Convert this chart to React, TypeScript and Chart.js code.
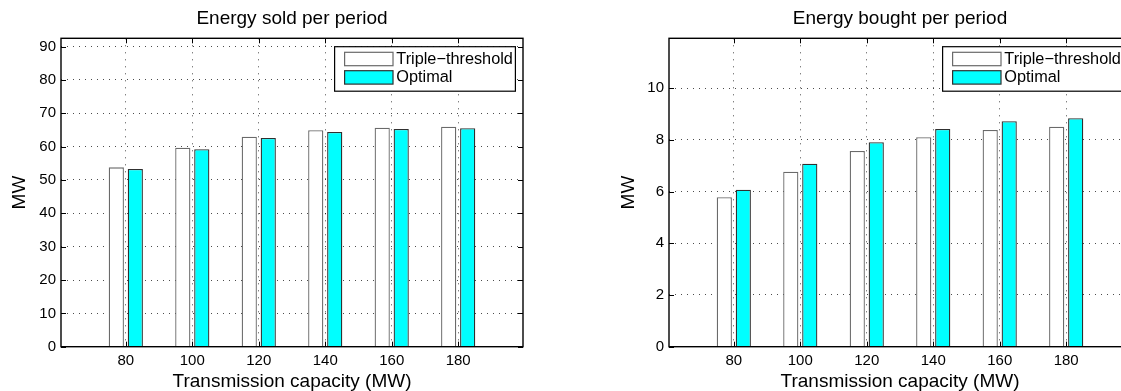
import React, { useEffect, useRef } from 'react';
import { Chart, registerables } from 'chart.js';

Chart.register(...registerables);

// ---- data ----
const capacities = [80, 100, 120, 140, 160, 180];
const xTickValues = [80, 100, 120, 140, 160, 180];
const seriesNames = ['Triple−threshold', 'Optimal'];

const soldTriple = [53.8, 59.7, 63.0, 64.9, 65.7, 66.0];
const soldOptimal = [53.3, 59.2, 62.6, 64.4, 65.3, 65.5];
const soldYTicks = [0, 10, 20, 30, 40, 50, 60, 70, 80, 90];

const boughtTriple = [5.78, 6.77, 7.57, 8.1, 8.38, 8.51];
const boughtOptimal = [6.07, 7.08, 7.91, 8.42, 8.72, 8.84];
const boughtYTicks = [0, 2, 4, 6, 8, 10];

const FONT = "'Liberation Sans', Arial, Helvetica, sans-serif";

type PanelSpec = {
  title: string;
  triple: number[];
  optimal: number[];
  yTicks: number[];
  yMax: number;
  padLeft: number;
  yWidth: number;
  padRight: number;
  canvasWidth: number;
  left: number;
};

const soldSpec: PanelSpec = {
  title: 'Energy sold per period',
  triple: soldTriple,
  optimal: soldOptimal,
  yTicks: soldYTicks,
  yMax: 92.5,
  padLeft: 0,
  yWidth: 61,
  padRight: 37,
  canvasWidth: 560,
  left: 0,
};

const boughtSpec: PanelSpec = {
  title: 'Energy bought per period',
  triple: boughtTriple,
  optimal: boughtOptimal,
  yTicks: boughtYTicks,
  yMax: 11.93,
  padLeft: 49.2,
  yWidth: 59.8,
  padRight: 29,
  canvasWidth: 600,
  left: 560,
};

const frameAndLegend = {
  id: 'matlabFrame',
  afterDraw(chart: any) {
    const { ctx, chartArea: a, scales } = chart;
    const xs = scales.x;
    const ys = scales.y;
    ctx.save();
    // inward tick marks on all four sides
    ctx.strokeStyle = '#000';
    ctx.lineWidth = 1;
    const tl = 5;
    ctx.beginPath();
    xs.ticks.forEach((t: any) => {
      const px = Math.round(xs.getPixelForValue(t.value)) + 0.5;
      ctx.moveTo(px, a.bottom);
      ctx.lineTo(px, a.bottom - tl);
      ctx.moveTo(px, a.top);
      ctx.lineTo(px, a.top + tl);
    });
    ys.ticks.forEach((t: any) => {
      const py = Math.round(ys.getPixelForValue(t.value)) + 0.5;
      ctx.moveTo(a.left, py);
      ctx.lineTo(a.left + tl, py);
      ctx.moveTo(a.right, py);
      ctx.lineTo(a.right - tl, py);
    });
    ctx.stroke();
    // axes box
    ctx.lineWidth = 1.4;
    ctx.strokeRect(a.left, a.top, a.right - a.left, a.bottom - a.top);

    // legend (inside, top right)
    const ds = chart.data.datasets;
    ctx.font = `16.3px ${FONT}`;
    let maxW = 0;
    ds.forEach((d: any) => {
      maxW = Math.max(maxW, ctx.measureText(d.label).width);
    });
    const boxW = 61.7 + maxW + 2.5;
    const boxH = 44.5;
    const boxRight = a.right - 7.6;
    const boxLeft = boxRight - boxW;
    const boxTop = a.top + 8.4;
    ctx.fillStyle = '#fff';
    ctx.fillRect(boxLeft, boxTop, boxW, boxH);
    ctx.strokeStyle = '#000';
    ctx.lineWidth = 1.2;
    ctx.strokeRect(boxLeft, boxTop, boxW, boxH);
    const swTops = [5.6, 24];
    ds.forEach((d: any, i: number) => {
      const sx = boxLeft + 10;
      const sy = boxTop + swTops[i];
      ctx.fillStyle = d.backgroundColor;
      ctx.fillRect(sx, sy, 48.4, 13.4);
      ctx.strokeStyle = d.borderColor;
      ctx.lineWidth = 1.2;
      ctx.strokeRect(sx, sy, 48.4, 13.4);
      ctx.fillStyle = '#000';
      ctx.textAlign = 'left';
      ctx.textBaseline = 'middle';
      ctx.fillText(d.label, boxLeft + 61.7, sy + 6.9);
    });
    ctx.restore();
  },
};

function Panel({ spec }: { spec: PanelSpec }) {
  const ref = useRef<HTMLCanvasElement | null>(null);
  useEffect(() => {
    if (!ref.current) return;
    const toPts = (vals: number[]) => vals.map((y, i) => ({ x: capacities[i], y }));
    const chart = new Chart(ref.current, {
      type: 'bar',
      data: {
        datasets: [
          {
            label: seriesNames[0],
            data: toPts(spec.triple),
            backgroundColor: '#ffffff',
            borderColor: '#6a6a6a',
            borderWidth: 1.3,
            categoryPercentage: 0.5714,
            barPercentage: 0.8,
          },
          {
            label: seriesNames[1],
            data: toPts(spec.optimal),
            backgroundColor: '#00ffff',
            borderColor: '#303030',
            borderWidth: 1.3,
            categoryPercentage: 0.5714,
            barPercentage: 0.8,
          },
        ] as any,
      },
      options: {
        animation: false,
        responsive: false,
        devicePixelRatio: 1,
        layout: { padding: { left: spec.padLeft, right: spec.padRight, top: 0, bottom: 0 } },
        plugins: {
          legend: { display: false },
          tooltip: { enabled: false },
          title: {
            display: true,
            text: spec.title,
            color: '#000',
            fullSize: false,
            font: { family: FONT, size: 19, weight: 'normal', lineHeight: 1.2 },
            padding: { top: 7.6, bottom: 7.9 },
          },
        },
        scales: {
          x: {
            type: 'linear',
            min: 60.5,
            max: 199.5,
            offset: false,
            afterBuildTicks: (s: any) => {
              s.ticks = xTickValues.map((v) => ({ value: v }));
            },
            afterFit: (s: any) => {
              s.height = 44.3;
            },
            grid: { color: 'rgba(0,0,0,0.7)', lineWidth: 1, drawTicks: false, offset: false },
            border: { display: false, dash: [1, 6] },
            ticks: {
              color: '#000',
              font: { family: FONT, size: 15 },
              padding: 5.6,
              maxRotation: 0,
              autoSkip: false,
            },
            title: {
              display: true,
              text: 'Transmission capacity (MW)',
              color: '#000',
              font: { family: FONT, size: 19, lineHeight: 1 },
              padding: { top: 0, bottom: 0.2 },
            },
          },
          y: {
            type: 'linear',
            min: 0,
            max: spec.yMax,
            afterBuildTicks: (s: any) => {
              s.ticks = spec.yTicks.map((v) => ({ value: v }));
            },
            afterFit: (s: any) => {
              s.width = spec.yWidth;
            },
            grid: { color: 'rgba(0,0,0,0.7)', lineWidth: 1, drawTicks: false },
            border: { display: false, dash: [1, 5] },
            ticks: { color: '#000', font: { family: FONT, size: 15 }, padding: 5 },
            title: {
              display: true,
              text: 'MW',
              color: '#000',
              font: { family: FONT, size: 19, lineHeight: 1 },
              padding: { top: 10.1, bottom: 0 },
            },
          },
        },
      } as any,
      plugins: [frameAndLegend],
    });
    return () => chart.destroy();
  }, [spec]);

  return (
    <div style={{ position: 'absolute', left: spec.left, top: 0, width: spec.canvasWidth, height: 391 }}>
      <canvas ref={ref} width={spec.canvasWidth} height={391} style={{ display: 'block' }} />
    </div>
  );
}

export default function App() {
  return (
    <div
      style={{
        position: 'fixed',
        left: 0,
        top: 0,
        width: 1121,
        height: 391,
        overflow: 'hidden',
        background: '#fff',
      }}
    >
      <Panel spec={soldSpec} />
      <Panel spec={boughtSpec} />
    </div>
  );
}
